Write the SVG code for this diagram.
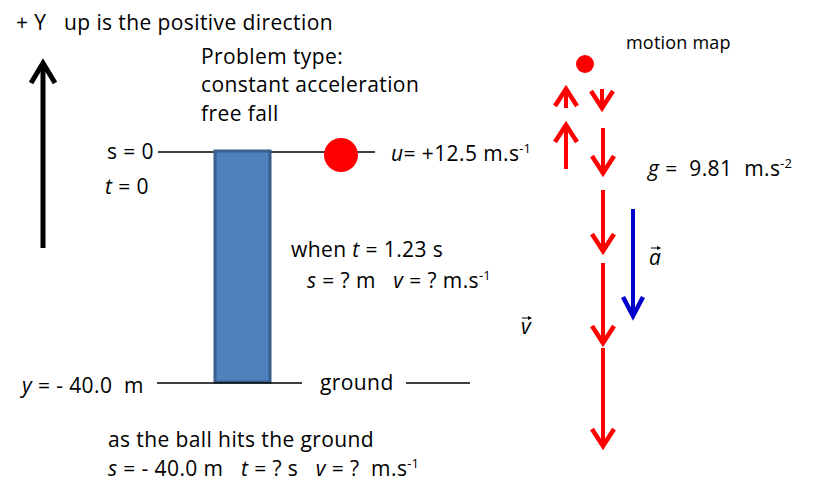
<svg xmlns="http://www.w3.org/2000/svg" width="813" height="500" viewBox="0 0 813 500">
<style>
text{font-family:"Open Sans","Liberation Sans",Arial,sans-serif;font-size:21px;letter-spacing:0.4px;fill:#000}
.sm{font-size:18px;letter-spacing:0.2px}
.sup{font-size:13px;letter-spacing:0}
.red{stroke:#FF0000;stroke-width:4;fill:none}
.blk{stroke:#000;stroke-width:1.5;fill:none}
</style>
<defs>
<marker id="hr" markerUnits="userSpaceOnUse" markerWidth="40" markerHeight="40" viewBox="-25 -20 40 40" refX="0" refY="0" orient="auto" overflow="visible">
<path d="M-17,-11 L0,0 L-17,11" fill="none" stroke="#FF0000" stroke-width="4.5"/>
</marker>
<marker id="hb" markerUnits="userSpaceOnUse" markerWidth="40" markerHeight="40" viewBox="-25 -20 40 40" refX="0" refY="0" orient="auto" overflow="visible">
<path d="M-19,-10 L0,0 L-19,10" fill="none" stroke="#0000CC" stroke-width="4.5"/>
</marker>
<marker id="hk" markerUnits="userSpaceOnUse" markerWidth="40" markerHeight="40" viewBox="-25 -20 40 40" refX="0" refY="0" orient="auto" overflow="visible">
<path d="M-20,-12 L0,0 L-20,12" fill="none" stroke="#000" stroke-width="5"/>
</marker>
</defs>

<g id="axis">
<text x="16" y="30">+ Y</text>
<text x="64" y="30">up is the positive direction</text>
<line x1="43" y1="248" x2="43" y2="63" stroke="#000" stroke-width="5" marker-end="url(#hk)"/>
</g>

<g id="problem">
<text x="201" y="64">Problem type:</text>
<text x="201" y="92">constant acceleration</text>
<text x="201" y="121">free fall</text>
</g>

<g id="start">
<text x="107" y="159">s = 0</text>
<text x="105" y="194"><tspan font-style="italic">t</tspan> = 0</text>
<line class="blk" x1="158" y1="152" x2="375" y2="152"/>
</g>

<g id="cliff">
<rect x="215" y="151" width="55" height="231" fill="#4F81BD" stroke="#3A5F8B" stroke-width="3"/>
</g>

<g id="ball">
<circle cx="341" cy="155" r="17" fill="#FF0000"/>
<text x="391" y="161"><tspan font-style="italic">u</tspan>= +12.5 m.s<tspan class="sup" dy="-8">-1</tspan></text>
</g>

<g id="when">
<text x="291" y="257">when <tspan font-style="italic">t</tspan> = 1.23 s</text>
<text x="307" y="288" xml:space="preserve"><tspan font-style="italic">s</tspan> = ? m   <tspan font-style="italic">v</tspan> = ? m.s<tspan class="sup" dy="-8">-1</tspan></text>
</g>

<g id="ground">
<text x="22" y="393" xml:space="preserve"><tspan font-style="italic">y</tspan> = - 40.0  m</text>
<line class="blk" x1="157" y1="383" x2="302" y2="383"/>
<text x="320" y="390">ground</text>
<line class="blk" x1="406" y1="383" x2="470" y2="383"/>
</g>

<g id="hits">
<text x="108" y="447">as the ball hits the ground</text>
<text x="108" y="476" xml:space="preserve"><tspan font-style="italic">s</tspan> = - 40.0 m   <tspan font-style="italic">t</tspan> = ? s   <tspan font-style="italic">v</tspan> = ?  m.s<tspan class="sup" dy="-8">-1</tspan></text>
</g>

<g id="motion-map">
<text class="sm" x="626" y="49">motion map</text>
<circle cx="585" cy="64" r="9" fill="#FF0000"/>
<text x="648" y="176" xml:space="preserve"><tspan font-style="italic">g</tspan> =  9.81  m.s<tspan class="sup" dy="-8">-2</tspan></text>
<text x="649" y="265" font-style="italic">a</text>
<line x1="651" y1="248" x2="660" y2="248" stroke="#000" stroke-width="1"/>
<path d="M657,246 L661,248 L657,250" fill="#000"/>
<text x="521" y="334" font-style="italic">v</text>
<line x1="522" y1="318" x2="531" y2="318" stroke="#000" stroke-width="1"/>
<path d="M528,316 L532,318 L528,320" fill="#000"/>
</g>

<g id="connectors">
<line class="red" x1="566" y1="108" x2="566" y2="89" marker-end="url(#hr)"/>
<line class="red" x1="566" y1="169" x2="566" y2="125" marker-end="url(#hr)"/>
<line class="red" x1="602" y1="89" x2="602" y2="108" marker-end="url(#hr)"/>
<line class="red" x1="603" y1="128" x2="603" y2="173" marker-end="url(#hr)"/>
<line class="red" x1="603" y1="190" x2="603" y2="251" marker-end="url(#hr)"/>
<line class="red" x1="603" y1="263" x2="603" y2="343" marker-end="url(#hr)"/>
<line class="red" x1="603" y1="348" x2="603" y2="446" marker-end="url(#hr)"/>
<line x1="633" y1="209" x2="633" y2="316" stroke="#0000CC" stroke-width="4" marker-end="url(#hb)"/>
</g>
</svg>
